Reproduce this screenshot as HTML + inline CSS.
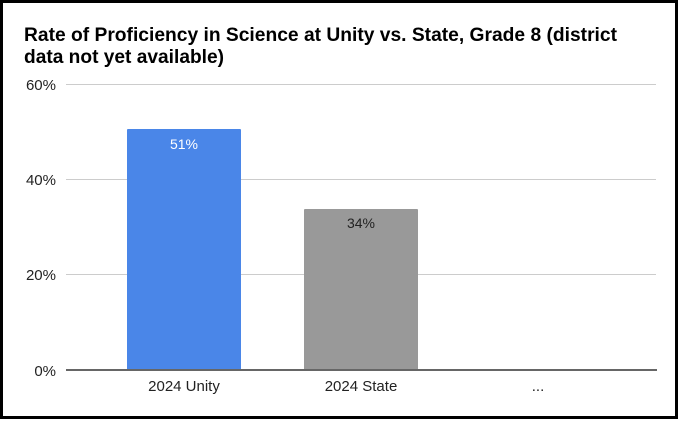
<!DOCTYPE html>
<html><head><style>
body{margin:0;width:678px;height:419px;overflow:hidden;background:#fff;font-family:"Liberation Sans",Arial,sans-serif}
</style></head><body>
<svg width="678" height="419" xmlns="http://www.w3.org/2000/svg" font-family="Liberation Sans, Arial, sans-serif">
<rect x="1.5" y="1.5" width="675" height="416" fill="#fff" stroke="#000" stroke-width="3"/>
<text x="24" y="41" font-size="19" font-weight="bold" fill="#000" textLength="593" lengthAdjust="spacingAndGlyphs">Rate of Proficiency in Science at Unity vs. State, Grade 8 (district</text>
<text x="24" y="63" font-size="19" font-weight="bold" fill="#000" textLength="200" lengthAdjust="spacingAndGlyphs">data not yet available)</text>
<g stroke="#ccc" stroke-width="1">
<line x1="66" y1="84.5" x2="656" y2="84.5"/>
<line x1="66" y1="179.5" x2="656" y2="179.5"/>
<line x1="66" y1="274.5" x2="656" y2="274.5"/>
</g>
<g font-size="15" fill="#222" text-anchor="end">
<text x="56" y="90">60%</text>
<text x="56" y="185">40%</text>
<text x="56" y="280">20%</text>
<text x="56" y="376">0%</text>
</g>
<rect x="127" y="129" width="114" height="241" fill="#4a86e8" rx="1"/>
<rect x="304" y="209" width="114" height="161" fill="#999" rx="1"/>
<line x1="66" y1="370" x2="657" y2="370" stroke="#666" stroke-width="2"/>
<text x="184" y="149" font-size="14" fill="#fff" text-anchor="middle">51%</text>
<text x="361" y="228" font-size="14" fill="#222" text-anchor="middle">34%</text>
<g font-size="15" fill="#222" text-anchor="middle">
<text x="184" y="391">2024 Unity</text>
<text x="361" y="391">2024 State</text>
<text x="538" y="391">...</text>
</g>
</svg>
</body></html>
